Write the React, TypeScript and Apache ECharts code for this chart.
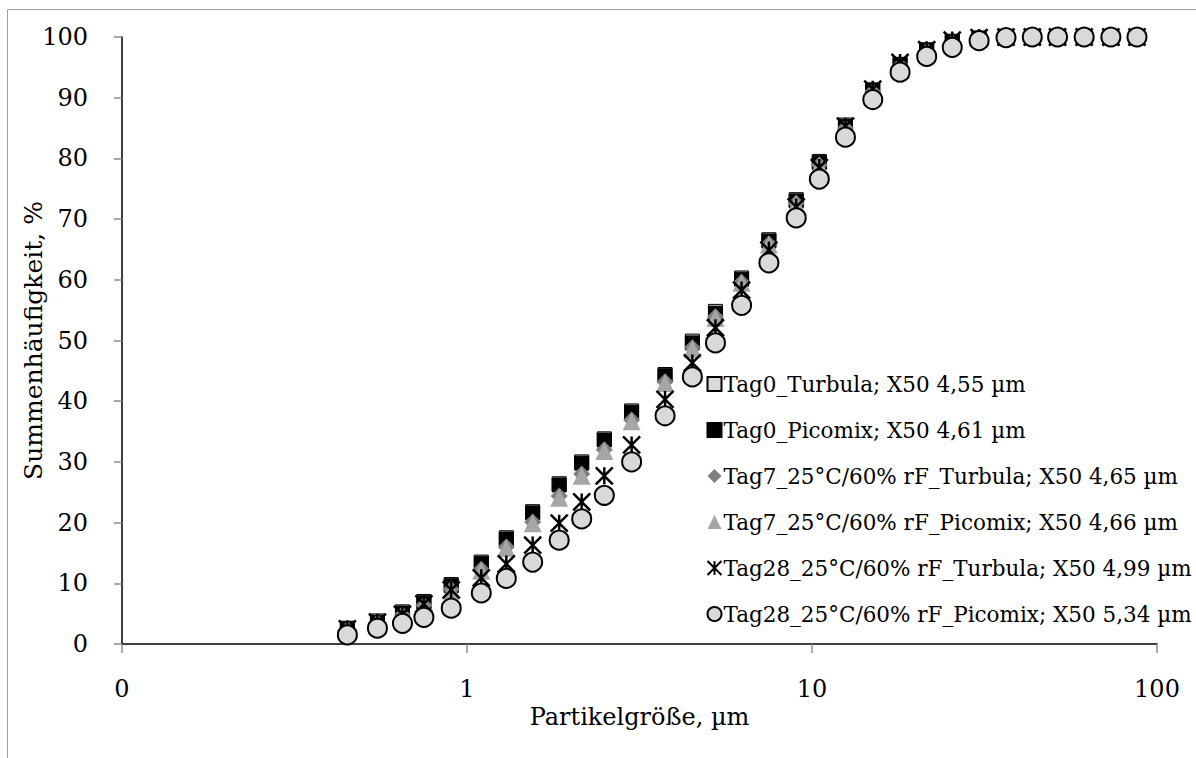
import React, { useEffect, useRef } from "react";
import * as echarts from "echarts";

const sizes = [0.45, 0.55, 0.65, 0.75, 0.9, 1.1, 1.3, 1.55, 1.85, 2.15, 2.5, 3.0, 3.75, 4.5, 5.25, 6.25, 7.5, 9.0, 10.5, 12.5, 15, 18, 21.5, 25.5, 30.5, 36.5, 43.5, 51.5, 61.5, 73.5, 87.5];

const tag0Turbula = [2.6, 3.8, 5.3, 7.0, 9.8, 13.5, 17.5, 21.8, 26.4, 30.0, 33.8, 38.4, 44.4, 49.9, 54.8, 60.3, 66.6, 73.2, 79.5, 85.5, 91.3, 95.5, 97.9, 99.3, 99.8, 100, 100, 100, 100, 100, 100];
const tag0Picomix = [2.5, 3.6, 5.1, 6.8, 9.6, 13.3, 17.3, 21.6, 26.2, 29.8, 33.6, 38.2, 44.2, 49.6, 54.5, 60.1, 66.4, 73.0, 79.3, 85.3, 91.2, 95.4, 97.8, 99.2, 99.8, 100, 100, 100, 100, 100, 100];
const tag7Turbula = [2.4, 3.5, 4.8, 6.4, 9.0, 12.3, 16.0, 20.1, 24.4, 28.0, 32.0, 36.9, 43.2, 48.8, 53.9, 59.6, 65.9, 72.6, 78.9, 85.0, 91.0, 95.3, 97.7, 99.1, 99.8, 100, 100, 100, 100, 100, 100];
const tag7Picomix = [2.4, 3.4, 4.7, 6.3, 8.8, 12.1, 15.8, 19.9, 24.1, 27.7, 31.8, 36.7, 43.0, 48.6, 53.7, 59.5, 65.8, 72.5, 78.8, 84.9, 90.9, 95.2, 97.6, 99.1, 99.8, 100, 100, 100, 100, 100, 100];
const tag28Turbula = [2.5, 3.6, 4.9, 6.6, 8.9, 10.9, 13.2, 16.3, 19.9, 23.4, 27.7, 32.8, 40.3, 46.3, 52.1, 58.3, 64.9, 72.0, 78.5, 85.3, 91.4, 95.8, 97.9, 99.5, 99.9, 100, 100, 100, 100, 100, 100];
const tag28Picomix = [1.5, 2.6, 3.4, 4.4, 5.9, 8.4, 10.8, 13.5, 17.1, 20.6, 24.5, 30.0, 37.6, 44.0, 49.6, 55.8, 62.8, 70.2, 76.6, 83.5, 89.7, 94.2, 96.8, 98.3, 99.4, 99.9, 100, 100, 100, 100, 100];

const seriesNames = [
  "Tag0_Turbula; X50 4,55 µm",
  "Tag0_Picomix; X50 4,61 µm",
  "Tag7_25°C/60% rF_Turbula; X50 4,65 µm",
  "Tag7_25°C/60% rF_Picomix; X50 4,66 µm",
  "Tag28_25°C/60% rF_Turbula; X50 4,99 µm",
  "Tag28_25°C/60% rF_Picomix; X50 5,34 µm",
];

const yTicks = [0, 10, 20, 30, 40, 50, 60, 70, 80, 90, 100];

const FONT = "DejaVu Serif";

export default function App() {
  const ref = useRef<HTMLDivElement>(null);
  useEffect(() => {
    if (!ref.current) return;
    const chart = echarts.init(ref.current, null, { renderer: "svg" });
    const pair = (ys: number[]) => sizes.map((x, i) => [x, ys[i]]);
    const asterisk = "path://M0,0L20,20M20,0L0,20M10,0L10,20";
    const series: any[] = [
      { name: seriesNames[0], data: pair(tag0Turbula), symbol: "rect", symbolSize: 14, itemStyle: { color: "#d9d9d9", borderColor: "#000", borderWidth: 1 } },
      { name: seriesNames[1], data: pair(tag0Picomix), symbol: "rect", symbolSize: 14, itemStyle: { color: "#000", borderColor: "#000", borderWidth: 1 } },
      { name: seriesNames[2], data: pair(tag7Turbula), symbol: "diamond", symbolSize: 17, itemStyle: { color: "#7f7f7f" } },
      { name: seriesNames[3], data: pair(tag7Picomix), symbol: "triangle", symbolSize: 18, itemStyle: { color: "#a6a6a6" } },
      { name: seriesNames[4], data: pair(tag28Turbula), symbol: asterisk, symbolSize: 17, itemStyle: { color: "none", borderColor: "#000", borderWidth: 2.5 } },
      { name: seriesNames[5], data: pair(tag28Picomix), symbol: "circle", symbolSize: 19, itemStyle: { color: "#d9d9d9", borderColor: "#000", borderWidth: 2 } },
    ].map((s) => ({ ...s, type: "scatter", itemStyle: { ...s.itemStyle, opacity: 1 }, emphasis: { disabled: true } }));

    chart.setOption({
      animation: false,
      backgroundColor: "#fff",
      textStyle: { fontFamily: FONT },
      grid: { left: 122, right: 39, top: 37, bottom: 114 },
      graphic: [
        { type: "rect", shape: { x: 7.5, y: 9.5, width: 1300, height: 900 }, style: { fill: "none", stroke: "#a0a0a0", lineWidth: 1 }, silent: true, z: -1 },
      ],
      legend: {
        orient: "vertical",
        left: 700,
        top: 368,
        itemWidth: 14,
        itemHeight: 14,
        itemGap: 24,
        textStyle: { fontFamily: FONT, fontSize: 21.5, color: "#000", padding: [0, 0, 0, -3] },
        data: seriesNames,
      },
      xAxis: {
        type: "log",
        logBase: 10,
        min: 0.1,
        max: 100,
        name: "Partikelgröße, µm",
        nameLocation: "middle",
        nameGap: 61,
        nameMoveOverlap: false,
        nameTextStyle: { fontFamily: FONT, fontSize: 24, color: "#000" },
        axisLine: { lineStyle: { color: "#000", width: 1.5 } },
        axisTick: { show: true, length: 9, lineStyle: { color: "#8c8c8c", width: 1.5 } },
        minorTick: { show: false },
        splitLine: { show: false },
        axisLabel: {
          fontFamily: FONT,
          fontSize: 24,
          color: "#000",
          margin: 33,
          formatter: (v: number) => (v < 1 ? "0" : String(Math.round(v))),
        },
      },
      yAxis: {
        type: "value",
        min: yTicks[0],
        max: yTicks[yTicks.length - 1],
        interval: 10,
        name: "Summenhäufigkeit, %",
        nameLocation: "middle",
        nameGap: 76,
        nameMoveOverlap: false,
        nameTextStyle: { fontFamily: FONT, fontSize: 25, color: "#000" },
        axisLine: { show: true, lineStyle: { color: "#000", width: 1.5 } },
        axisTick: { show: true, length: 8, lineStyle: { color: "#8c8c8c", width: 1.5 } },
        splitLine: { show: false },
        axisLabel: { fontFamily: FONT, fontSize: 24, color: "#000", margin: 34 },
      },
      series,
    });
    return () => chart.dispose();
  }, []);
  return <div ref={ref} style={{ position: "fixed", left: 0, top: 0, width: 1196, height: 758 }} />;
}
